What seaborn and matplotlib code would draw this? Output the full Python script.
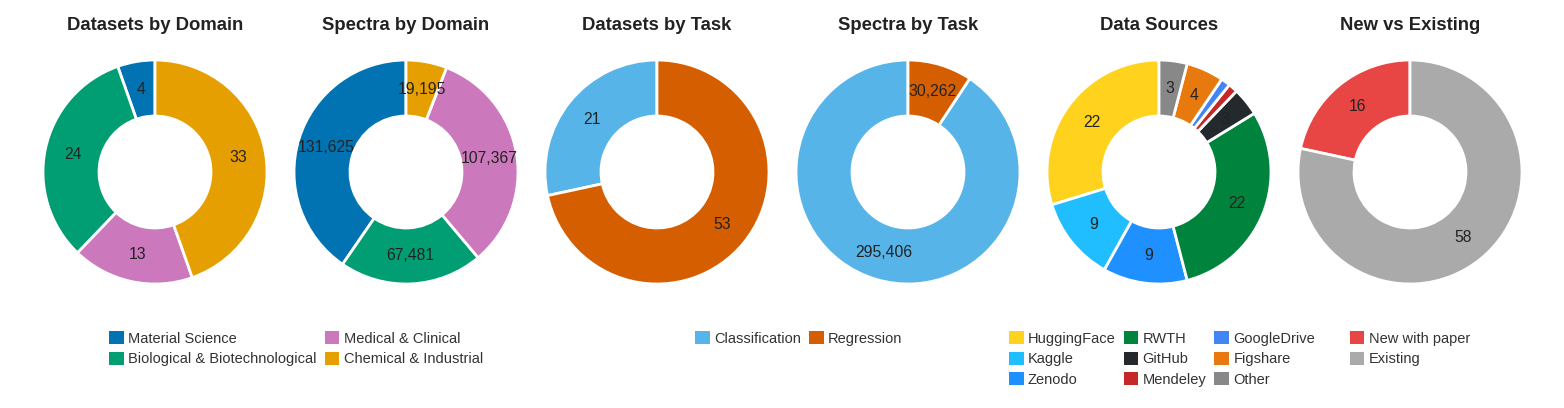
import matplotlib
matplotlib.use("Agg")
import numpy as np
import matplotlib.pyplot as plt
import matplotlib.patches as mpatches
import seaborn as sns

sns.set_theme(style="white")
plt.rcParams['font.family'] = ['Liberation Sans', 'DejaVu Sans']

# ---- data ----
domain_labels = ['Material Science', 'Biological & Biotechnological',
                 'Medical & Clinical', 'Chemical & Industrial']
domain_datasets = [4, 24, 13, 33]
domain_spectra = [131625, 67481, 107367, 19195]
domain_colors = ['#0173B2', '#029E73', '#CC78BC', '#E69F00']

task_labels = ['Classification', 'Regression']
task_datasets = [21, 53]
task_spectra = [295406, 30262]
task_colors = ['#56B4E9', '#D55E00']

source_labels = ['HuggingFace', 'Kaggle', 'Zenodo', 'RWTH', 'GitHub',
                 'Mendeley', 'GoogleDrive', 'Figshare', 'Other']
source_counts = [22, 9, 9, 22, 3, 1, 1, 4, 3]
source_colors = ['#FFD21E', '#20BEFF', '#1E90FF', '#00843D', '#24292E',
                 '#C62828', '#4285F4', '#E8790E', '#888888']

origin_labels = ['New with paper', 'Existing']
origin_counts = [16, 58]
origin_colors = ['#E84545', '#AAAAAA']

charts = [
    ('Datasets by Domain', domain_datasets, domain_colors),
    ('Spectra by Domain', domain_spectra, domain_colors),
    ('Datasets by Task', task_datasets, task_colors),
    ('Spectra by Task', task_spectra, task_colors),
    ('Data Sources', source_counts, source_colors),
    ('New vs Existing', origin_counts, origin_colors),
]

W, H = 1564, 408
fig = plt.figure(figsize=(W / 100, H / 100), dpi=100)

centers_x = [155, 406, 657, 908, 1159, 1410]
center_y = 172
box = 280  # pie radius 1 -> 112 px with the default 1.25 limits

for (title, vals, cols), cx in zip(charts, centers_x):
    ax = fig.add_axes([(cx - box / 2) / W, (H - center_y - box / 2) / H,
                       box / W, box / H])
    wedges, _ = ax.pie(vals, colors=cols, startangle=90, counterclock=True,
                       wedgeprops=dict(width=0.5, edgecolor='white', linewidth=2))
    total = sum(vals)
    # value labels, skip the tiny slices
    for w, v in zip(wedges, vals):
        if v / total > 0.02:
            ang = np.deg2rad((w.theta1 + w.theta2) / 2)
            ax.text(0.75 * np.cos(ang), 0.75 * np.sin(ang), f'{v:,}',
                    ha='center', va='center', fontsize=11.3, color='#222222')
    ax.set_aspect('equal')
    fig.text(cx / W, 1 - 29.5 / H, title, ha='center', va='baseline',
             fontsize=13.3, fontweight='bold', color='#222222')


def add_legend(labels, colors, x, ncol):
    handles = [mpatches.Patch(facecolor=c, edgecolor='none', label=l)
               for l, c in zip(labels, colors)]
    fig.legend(handles=handles, loc='upper center',
               bbox_to_anchor=(x / W, 1 - 324 / H), ncol=ncol, frameon=False,
               fontsize=10.5, handlelength=1.0, handleheight=1.0,
               handletextpad=0.3, columnspacing=0.55, labelspacing=0.4,
               borderpad=0, labelcolor='#333333')


add_legend(domain_labels, domain_colors, 296, 2)
add_legend(task_labels, task_colors, 799, 2)
add_legend(source_labels, source_colors, 1162, 3)
add_legend(origin_labels, origin_colors, 1410, 1)

fig.savefig('out.png', dpi=100)
